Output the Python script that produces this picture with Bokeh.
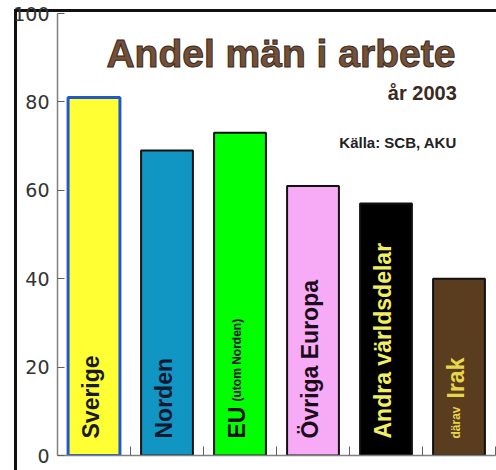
from bokeh.plotting import figure
from bokeh.models import Range1d, FixedTicker, ColumnDataSource, Label
from bokeh.embed import file_html
from bokeh.resources import INLINE
from bokeh.core.properties import value
import math

# --- data ---
categories = ["Sverige", "Norden", "EU (utom Norden)", "Övriga Europa", "Andra världsdelar", "därav Irak"]
values = [81, 69, 73, 61, 57, 40]
bar_colors = ["#ffff33", "#1196c4", "#00ff00", "#f7aaf5", "#000000", "#5a3d1f"]
line_colors = ["#2158d0", "#111111", "#111111", "#111111", "#111111", "#111111"]
lab_pre = ["", "", "", "", "", "därav"]
lab_main = ["Sverige", "Norden", "EU", "Övriga Europa", "Andra världsdelar", "Irak"]
lab_post = ["", "", "(utom Norden)", "", "", ""]
lab_colors = ["#1a1a1a", "#0b1830", "#111111", "#1a0a1a", "#f2f060", "#e8d64a"]
y_ticks = [0, 20, 40, 60, 80, 100]

n = len(categories)
xs = [i + 0.5 for i in range(n)]

p = figure(width=496, height=470, output_backend="svg", toolbar_location=None,
           x_range=Range1d(0, n), y_range=Range1d(0, 100),
           min_border_left=57, min_border_right=1, min_border_top=13, min_border_bottom=15)
p.grid.visible = False
p.outline_line_color = None
p.background_fill_color = "white"
p.border_fill_color = None
# black frame line on the left and top (page background behind the transparent border)
p.styles = {
    "background-color": "white",
    "background-image": "linear-gradient(#111111, #111111), linear-gradient(#111111, #111111)",
    "background-size": "3px 470px, 496px 3px",
    "background-position": "14px 9px, 14px 9px",
    "background-repeat": "no-repeat",
}

src = ColumnDataSource(dict(x=xs, top=values, fill=bar_colors, line=line_colors,
                            lw=[3, 2, 2, 2, 2, 2]))
p.vbar(x="x", top="top", bottom=0, width=0.71, source=src,
       fill_color="fill", line_color="line", line_width="lw")

# vertical bar labels
BASE = 17  # px above the bar bottom
XOFF = -3
pre_w = {"därav": 40}
main_w = {"EU": 37}
for i in range(n):
    off = BASE
    if lab_pre[i]:
        p.text(x=[xs[i]], y=[0], text=[lab_pre[i]], angle=math.pi / 2,
               text_align="left", text_baseline="alphabetic",
               x_offset=XOFF, y_offset=-off,
               text_font=value("Liberation Sans"), text_font_style="bold",
               text_font_size="12px", text_color=lab_colors[i])
        off += pre_w.get(lab_pre[i], 36)
    p.text(x=[xs[i]], y=[0], text=[lab_main[i]], angle=math.pi / 2,
           text_align="left", text_baseline="alphabetic",
           x_offset=XOFF, y_offset=-off,
           text_font=value("Liberation Sans"), text_font_style="bold",
           text_font_size="23px", text_color=lab_colors[i])
    if lab_post[i]:
        off2 = off + main_w.get(lab_main[i], 36)
        p.text(x=[xs[i]], y=[0], text=[lab_post[i]], angle=math.pi / 2,
               text_align="left", text_baseline="alphabetic",
               x_offset=XOFF, y_offset=-off2,
               text_font=value("Liberation Sans"), text_font_style="bold",
               text_font_size="12px", text_color=lab_colors[i])

# axes
ya = p.yaxis[0]
ya.ticker = FixedTicker(ticks=y_ticks)
ya.axis_line_color = "#808080"
ya.axis_line_width = 1.5
ya.major_tick_line_color = "#606060"
ya.major_tick_in = 7
ya.major_tick_out = 0
ya.minor_tick_line_color = None
ya.major_label_standoff = 8
ya.major_label_text_font = "DejaVu Sans"
ya.major_label_text_font_size = "19px"
ya.major_label_text_color = "#333333"

xa = p.xaxis[0]
xa.ticker = FixedTicker(ticks=[1, 2, 3, 4, 5, 6])
xa.axis_line_color = "#808080"
xa.axis_line_width = 1.5
xa.major_tick_line_color = "#606060"
xa.major_tick_in = 9
xa.major_tick_out = 0
xa.minor_tick_line_color = None
xa.major_label_text_font_size = "8px"
xa.major_label_text_color = "white"
xa.major_label_standoff = 2

# titles
p.add_layout(Label(x=5.45, y=86, text="Andel män i arbete", text_align="right",
                   text_font="Liberation Sans", text_font_style="bold", text_font_size="39px",
                   text_color="#72503a", text_outline_color="#3a2818"))
p.add_layout(Label(x=5.47, y=79.6, text="år 2003", text_align="right",
                   text_font="Liberation Sans", text_font_style="bold", text_font_size="20px",
                   text_color="#3a2a22"))
p.add_layout(Label(x=5.47, y=69, text="Källa: SCB, AKU", text_align="right",
                   text_font="Liberation Sans", text_font_style="bold", text_font_size="15px",
                   text_color="#222222"))

open("out.html", "w").write(file_html(p, INLINE))
